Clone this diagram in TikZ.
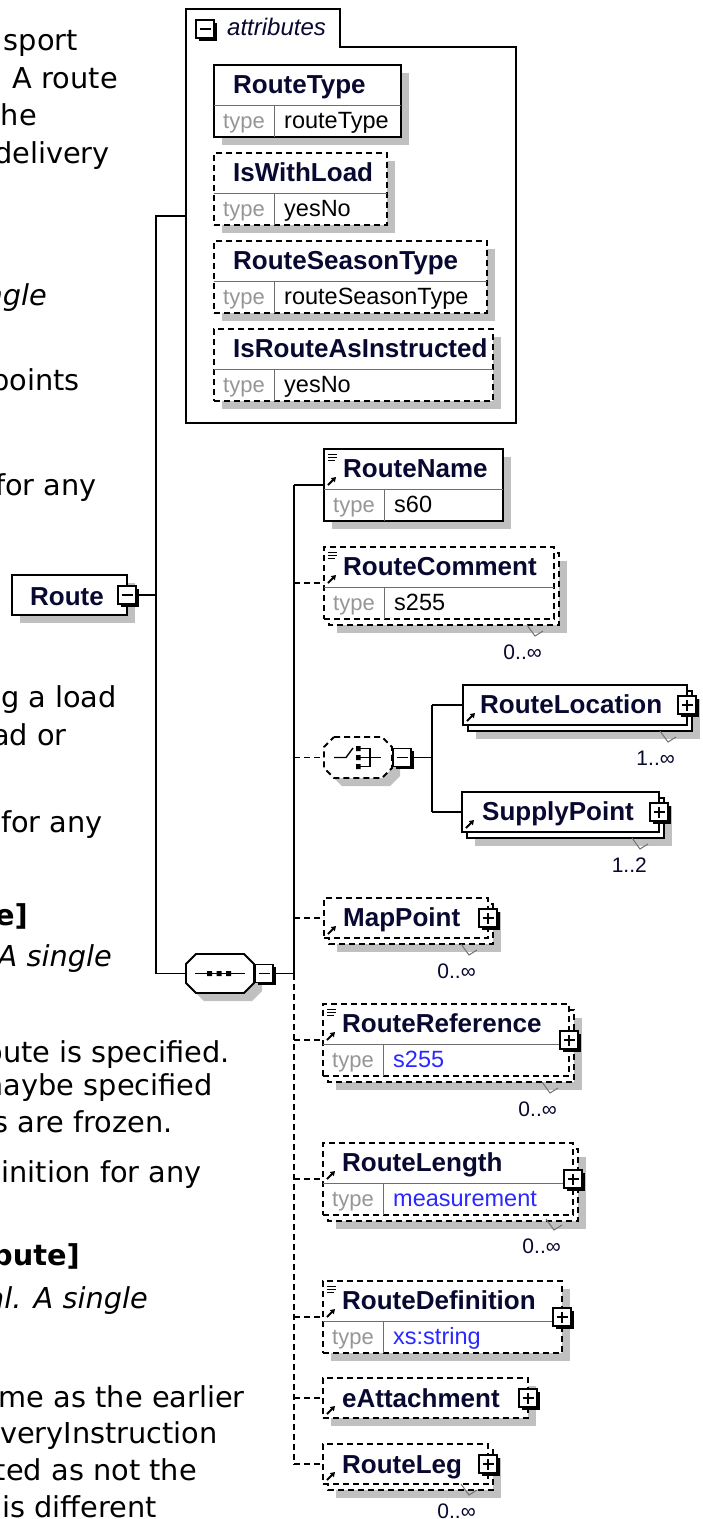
\documentclass[tikz,border=0pt]{standalone}
\usepackage{fontspec}
\setmainfont{Liberation Sans}
\newfontfamily\docf{DejaVu Sans}[ItalicFont={DejaVu Sans Oblique},BoldFont={DejaVu Sans Bold}]
\usetikzlibrary{shadows,calc,arrows.meta}
\definecolor{shc}{RGB}{192,192,192}
\definecolor{namec}{RGB}{8,8,48}
\definecolor{typeg}{RGB}{150,150,150}
\definecolor{valblue}{RGB}{40,40,255}
\definecolor{divc}{RGB}{110,110,110}
\tikzset{
  ln/.style={line width=1.8pt},
  dl/.style={line width=1.8pt, dash pattern=on 6pt off 4pt},
  opt/.style={dash pattern=on 6pt off 4pt},
  bxl/.style={draw, fill=white, line width=1.8pt},
  bx/.style={draw, fill=white, line width=1.8pt, rectangle, inner sep=0pt, outer sep=0pt},
  nm/.style={anchor=base west, inner sep=0pt, font=\fontsize{26}{30}\selectfont\bfseries, text=namec},
  tp/.style={anchor=base west, inner sep=0pt, font=\fontsize{22}{26}\selectfont, text=typeg},
  tv/.style={anchor=base west, inner sep=0pt, font=\fontsize{23.5}{28}\selectfont, text=black},
  occ/.style={anchor=base east, inner sep=0pt, font=\fontsize{21}{25}\selectfont, text=namec},
  mk/.style={line width=1pt, draw=black!55},
  doc/.style={anchor=base east, inner sep=0pt, font=\docf\fontsize{28.8}{34}\selectfont},
  docb/.style={anchor=base east, inner sep=0pt, font=\docf\bfseries\fontsize{28.8}{34}\selectfont},
  doci/.style={anchor=base east, inner sep=0pt, font=\docf\itshape\fontsize{28.8}{34}\selectfont},
  btn/.style={draw, line width=1.4pt, fill=white, minimum size=18pt, inner sep=0pt, outer sep=0pt,
    drop shadow={shadow xshift=2.5pt, shadow yshift=-2.5pt, fill=black, opacity=1}},
  btnminus/.style={btn, path picture={\draw[line width=1.4pt] ([xshift=-5.5pt]path picture bounding box.center) -- ([xshift=5.5pt]path picture bounding box.center);}},
  btnplus/.style={btn, path picture={\draw[line width=1.4pt] ([xshift=-5.5pt]path picture bounding box.center) -- ([xshift=5.5pt]path picture bounding box.center) ([yshift=-5.5pt]path picture bounding box.center) -- ([yshift=5.5pt]path picture bounding box.center);}},
}
% element box, single
\newcommand\Elem[6]{%
  \fill[shc] (#2+8,#3+8) rectangle (#4+8,#5+8);
  \node[bx,#6,anchor=north west,minimum width=#4-#2,minimum height=#5-#3] (#1) at (#2,#3) {};}
% element box, stacked (maxOccurs > 1)
\newcommand\ElemS[6]{%
  \fill[shc] (#2+13,#3+14) rectangle (#4+13,#5+14);
  \draw[bxl,#6] (#2+5,#3+6) rectangle (#4+5,#5+6);
  \node[bx,#6,anchor=north west,minimum width=#4-#2,minimum height=#5-#3] (#1) at (#2,#3) {};}
\newcommand\Name[4]{\node[nm] (#1-n) at (#2+19,#3+28) {#4};}
\newcommand\Type[6]{%
  \draw[line width=1pt,divc] (#2,#3+40) -- (#4,#3+40) (#2+60,#3+40) -- (#2+60,#5);
  \node[tp] (#1-k) at (#2+9,#3+63) {type};
  \node[tv] (#1-v) at (#2+70,#3+63) {#6};}
\newcommand\DocI[2]{\draw[line width=1pt] (#1+4,#2+5) -- (#1+13,#2+5) (#1+4,#2+8) -- (#1+13,#2+8) (#1+4,#2+11) -- (#1+11,#2+11);}
\newcommand\RefI[2]{\draw[line width=1.8pt,-{Triangle[length=4.5pt,width=5.5pt]}] (#1+4,#2-4) -- (#1+12,#2-12);}
% occurrence label: id, right, bottom, text
\newcommand\Occ[4]{%
  \draw[mk] (#2-27,#3) -- (#2-19,#3+11) -- (#2-11,#3+6);
  \node[occ] (#1-o) at (#2-12,#3+34) {#4};}
\newcommand\Octa[6]{%
  \fill[shc] (#2+18,#3+8) -- (#4-2,#3+8) -- (#4+8,#3+18) -- (#4+8,#5-2) -- (#4-2,#5+8) -- (#2+18,#5+8) -- (#2+8,#5-2) -- (#2+8,#3+18) -- cycle;
  \draw[bxl,#6] (#2+10,#3) -- (#4-10,#3) -- (#4,#3+10) -- (#4,#5-10) -- (#4-10,#5) -- (#2+10,#5) -- (#2,#5-10) -- (#2,#3+10) -- cycle;
  \node[inner sep=0pt,outer sep=0pt,minimum width=#4-#2,minimum height=#5-#3,anchor=north west] (#1) at (#2,#3) {};}

\begin{document}
\begin{tikzpicture}[x=1pt,y=-1pt]
\useasboundingbox (0,0) rectangle (702,1519);
\clip (0,0) rectangle (702,1519);
\fill[white] (0,0) rectangle (702,1519);

% ---------- documentation text (cut at the left edge) ----------
\node[doc]  (d1)  at (78,50)    {sport};
\node[doc]  (d2)  at (118,88)   {A route};
\node[doc]  (d3)  at (37,125)   {he};
\node[doc]  (d4)  at (110,163)  {delivery};
\node[doci] (d5)  at (47,305)   {ngle};
\node[doc]  (d6)  at (80,390)   {points};
\node[doc]  (d7)  at (97,495)   {for any};
\node[doc]  (d8)  at (117,707)  {g a load};
\node[doc]  (d9)  at (67,745)   {ad or};
\node[doc]  (d10) at (103,832)  {for any};
\node[docb] (d11) at (28,925)   {e]};
\node[doci] (d12) at (112,966)  {A single};
\node[doc]  (d13) at (230,1062) {oute is specified.};
\node[doc]  (d14) at (213,1095) {maybe specified};
\node[doc]  (d15) at (173,1132) {s are frozen.};
\node[doc]  (d16) at (202,1182) {inition for any};
\node[docb] (d17) at (80,1265)  {bute]};
\node[doci] (d18) at (148,1308) {al. A single};
\node[doc]  (d19) at (245,1407) {me as the earlier};
\node[doc]  (d20) at (218,1443) {veryInstruction};
\node[doc]  (d21) at (197,1480) {ted as not the};
\node[doc]  (d22) at (157,1517) {is different};

% ---------- attributes group ----------
\node[inner sep=0pt,outer sep=0pt,minimum width=330,minimum height=414,anchor=north west] (attr) at (186,9) {};
\draw[ln] (attr.south west) -- (attr.north west) -- (340,9) -- (340,47) -- (516,47) -- (attr.south east) -- cycle;
\node[btnminus] (attrbtn) at (205,29) {};
\node[anchor=base west, inner sep=0pt, font=\fontsize{24}{28}\selectfont\itshape, text=namec] (attrlbl) at (227,35) {attributes};

\Elem{at1}{214}{65}{401}{137}{solid}
\Name{at1}{214}{65}{RouteType}
\Type{at1}{214}{65}{401}{137}{routeType}
\Elem{at2}{214}{153}{387}{225}{opt}
\Name{at2}{214}{153}{IsWithLoad}
\Type{at2}{214}{153}{387}{225}{yesNo}
\Elem{at3}{214}{241}{487}{313}{opt}
\Name{at3}{214}{241}{RouteSeasonType}
\Type{at3}{214}{241}{487}{313}{routeSeasonType}
\Elem{at4}{214}{329}{493}{401}{opt}
\Name{at4}{214}{329}{IsRouteAsInstructed}
\Type{at4}{214}{329}{493}{401}{yesNo}

% ---------- Route ----------
\fill[shc] (20,583) rectangle (135,623);
\node[bx,anchor=north west,minimum width=115,minimum height=40] (route) at (12,575) {};
\node[nm] (route-n) at (30,605) {Route};
\node[btnminus] (routebtn) at (route.east) {};

% ---------- sequence compositor ----------
\Octa{seq}{186}{954}{254}{993}{solid}
\draw[line width=1.5pt] (195,973.5) -- (245,973.5);
\fill (207,971) rectangle (212,976) (216.5,971) rectangle (221.5,976) (226,971) rectangle (231,976);
\node[btnminus] (seqbtn) at (264,973.5) {};

% ---------- sequence children ----------
\Elem{rn}{324}{449}{503}{521}{solid}
\Name{rn}{324}{449}{RouteName}
\Type{rn}{324}{449}{503}{521}{s60}
\DocI{324}{449}\RefI{324}{489}

\ElemS{rc}{324}{547}{554}{619}{opt}
\Name{rc}{324}{547}{RouteComment}
\Type{rc}{324}{547}{554}{619}{s255}
\DocI{324}{547}\RefI{324}{587}
\Occ{rc}{554}{625}{0..∞}

\Octa{ch}{324}{737}{392}{778}{opt}
\draw[line width=1.4pt] (334,757.5) -- (346,757.5) -- (353,748);
\fill (356,746) rectangle (360.5,751) (356,755) rectangle (360.5,760) (356,764) rectangle (360.5,769);
\draw[line width=1.3pt] (360,748.5) -- (370,748.5) -- (370,766.5) -- (360,766.5) (360,757.5) -- (381,757.5);
\node[btnminus] (chbtn) at (402,757.5) {};

\ElemS{mp}{324}{898}{488}{938}{opt}
\node[nm] (mp-n) at (343,926) {MapPoint};
\RefI{324}{938}
\node[btnplus] (mp-b) at (mp.east) {};
\Occ{mp}{488}{944}{0..∞}

\ElemS{rr}{323}{1004}{569}{1076}{opt}
\Name{rr}{323}{1004}{RouteReference}
\Type{rr}{323}{1004}{569}{1076}{\textcolor{valblue}{s255}}
\DocI{323}{1004}\RefI{323}{1044}
\node[btnplus] (rr-b) at (rr.east) {};
\Occ{rr}{569}{1082}{0..∞}

\ElemS{rlen}{323}{1143}{573}{1215}{opt}
\Name{rlen}{323}{1143}{RouteLength}
\Type{rlen}{323}{1143}{573}{1215}{\textcolor{valblue}{measurement}}
\RefI{323}{1183}
\node[btnplus] (rlen-b) at (rlen.east) {};
\Occ{rlen}{573}{1219}{0..∞}

\Elem{rd}{323}{1281}{562}{1353}{opt}
\Name{rd}{323}{1281}{RouteDefinition}
\Type{rd}{323}{1281}{562}{1353}{\textcolor{valblue}{xs:string}}
\DocI{323}{1281}\RefI{323}{1321}
\node[btnplus] (rd-b) at (rd.east) {};

\Elem{ea}{323}{1378}{528}{1418}{opt}
\node[nm] (ea-n) at (342,1407) {eAttachment};
\RefI{323}{1418}
\node[btnplus] (ea-b) at (ea.east) {};

\ElemS{rleg}{323}{1444}{488}{1484}{opt}
\node[nm] (rleg-n) at (342,1473) {RouteLeg};
\RefI{323}{1484}
\node[btnplus] (rleg-b) at (rleg.east) {};
\Occ{rleg}{488}{1484}{0..∞}

% ---------- choice children ----------
\ElemS{rloc}{463}{685}{687}{725}{solid}
\node[nm] (rloc-n) at (480,713) {RouteLocation};
\RefI{463}{725}
\node[btnplus] (rloc-b) at (rloc.east) {};
\Occ{rloc}{687}{731}{1..∞}

\ElemS{sp}{462}{792}{659}{832}{solid}
\node[nm] (sp-n) at (482,820) {SupplyPoint};
\RefI{462}{832}
\node[btnplus] (sp-b) at (sp.east) {};
\Occ{sp}{659}{838}{1..2}

% ---------- connectors ----------
\coordinate (bus1) at (156,0);
\coordinate (bus2) at (294,0);
\coordinate (bus3) at (432,0);
\draw[ln] (routebtn.east) -- (routebtn.east -| bus1);
\draw[ln] (attr.west) -- (attr.west -| bus1) |- (seq.west);
\draw[ln] (seqbtn.east) -- (seqbtn.east -| bus2);
\draw[ln] (rn.west -| bus2) -- (seqbtn.east -| bus2);
\draw[dl] (seqbtn.east -| bus2) -- (rleg.west -| bus2);
\draw[ln] (rn.west -| bus2) -- (rn.west);
\draw[dl] (rc.west -| bus2) -- (rc.west);
\draw[dl] (ch.west -| bus2) -- (ch.west);
\draw[dl] (mp.west -| bus2) -- (mp.west);
\draw[dl] (rr.west -| bus2) -- (rr.west);
\draw[dl] (rlen.west -| bus2) -- (rlen.west);
\draw[dl] (rd.west -| bus2) -- (rd.west);
\draw[dl] (ea.west -| bus2) -- (ea.west);
\draw[dl] (rleg.west -| bus2) -- (rleg.west);
\draw[ln] (chbtn.east) -- (chbtn.east -| bus3);
\draw[ln] (rloc.west -| bus3) -- (sp.west -| bus3);
\draw[ln] (rloc.west -| bus3) -- (rloc.west);
\draw[ln] (sp.west -| bus3) -- (sp.west);
\end{tikzpicture}
\end{document}
